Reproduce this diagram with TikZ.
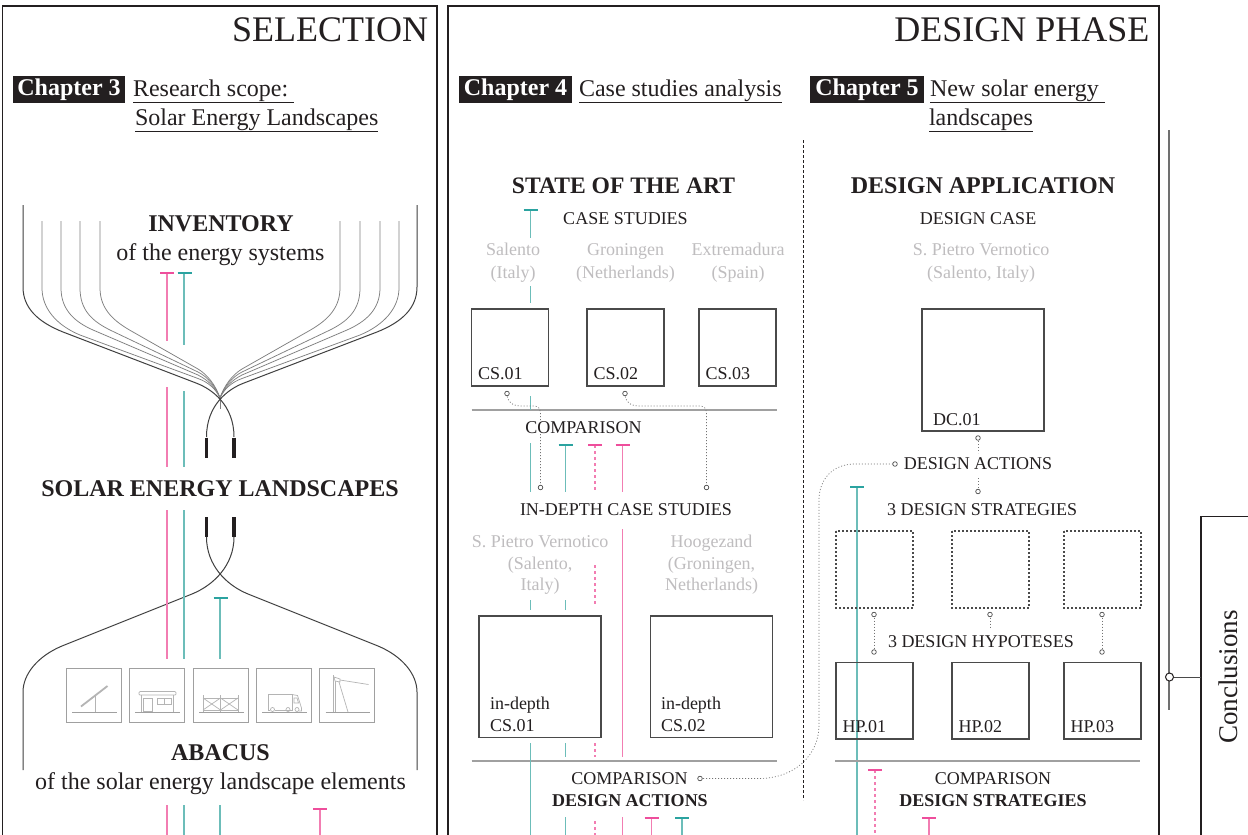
\documentclass[tikz,border=0pt]{standalone}
\usepackage{fontspec}
\setmainfont{Liberation Serif}
\definecolor{ink}{HTML}{231F20}
\definecolor{paleink}{HTML}{BFBDBF}
\definecolor{pinkline}{HTML}{F27DB2}
\definecolor{pinkcap}{HTML}{EE4E9C}
\definecolor{tealline}{HTML}{6CBDB9}
\definecolor{tealcap}{HTML}{2BA3A0}
\definecolor{boxgrey}{HTML}{4A4A4A}
\definecolor{rulegrey}{HTML}{A0A0A0}
\definecolor{icongrey}{HTML}{B4B4B4}
\newcommand{\fs}[1]{\fontsize{#1}{#1}\selectfont}
\tikzset{
 x=1pt,y=-1pt,
 every node/.style={inner sep=0pt,outer sep=0pt,text=ink},
 txt/.style={anchor=base,font=\fs{18}},
 txtl/.style={anchor=base west,font=\fs{18}},
 pale/.style={anchor=base,font=\fs{18},text=paleink},
 big/.style={anchor=base,font=\fs{24}},
 bigb/.style={anchor=base,font=\fs{24}\bfseries},
 bigl/.style={anchor=base west,font=\fs{24}},
 medb/.style={anchor=base,font=\fs{18}\bfseries},
 title/.style={anchor=base east,font=\fs{36}},
 chap/.style={fill=ink,text=white,font=\fs{24}\bfseries,minimum height=27pt,anchor=center},
 frame/.style={draw=ink,line width=1.4pt},
 pinkl/.style={draw=pinkline,line width=1.8pt},
 pinkd/.style={draw=pinkline,line width=1.3pt,dash pattern=on 3pt off 3pt},
 teall/.style={draw=tealline,line width=1.2pt},
 pinkc/.style={draw=pinkcap,line width=2pt},
 tealc/.style={draw=tealcap,line width=2pt},
 fan/.style={draw=black!50,line width=.75pt},
 fanout/.style={draw=black!75,line width=1pt},
 rulel/.style={draw=rulegrey,line width=1.2pt},
 sbox/.style={draw=boxgrey,line width=1.3pt},
 dbox/.style={draw=boxgrey,line width=1.3pt,dash pattern=on 2pt off 2pt},
 ibox/.style={draw=rulegrey,line width=1pt},
 icon/.style={draw=icongrey,line width=.7pt},
 dotl/.style={draw=black!55,line width=.7pt,dash pattern=on 1pt off 2pt},
 dotc/.style={draw=black!70,line width=.7pt,fill=white},
}
\newcommand{\tcap}[3]{\draw[#1] (#2-7,#3) -- (#2+7,#3);}
\begin{document}
\begin{tikzpicture}
\clip (0,0) rectangle (1248,835);
\fill[white] (0,0) rectangle (1248,835);
% frames
\draw[frame] (2.5,840) -- (2.5,6) -- (437,6) -- (437,840);
\draw[frame] (448,840) -- (448,6) -- (1159,6) -- (1159,840);
\draw[draw=ink,line width=1.2pt] (1248,516.5) -- (1201,516.5) -- (1201,840);
\draw[draw=rulegrey!70!black,line width=1.4pt] (1169,130) -- (1169,710);
\coordinate (cj) at (1169.5,677);
\coordinate (cb) at (1201,677);
\draw[draw=boxgrey,line width=1pt] (cj) -- (cb);
\draw[draw=ink,line width=1pt,fill=white] (cj) circle (4);
\node[anchor=base,rotate=90,font=\fs{27}] (concl) at (1237,677) {Conclusions};
% titles
\node[title] (tsel) at (428,41) {SELECTION};
\node[title] (tdes) at (1149.5,41) {DESIGN PHASE};
\node[chap,minimum width=112pt] (ch3) at (69,89.5) {\raisebox{-1pt}{Chapter 3}};
\node[chap,minimum width=113pt] (ch4) at (515.5,89.5) {\raisebox{-1pt}{Chapter 4}};
\node[chap,minimum width=114pt] (ch5) at (867,89.5) {\raisebox{-1pt}{Chapter 5}};
\node[bigl] (h3a) at (133,96) {\underline{Research scope:\ }};
\node[bigl] (h3b) at (135,125) {\underline{Solar Energy Landscapes}};
\node[bigl] (h4a) at (579,96) {\underline{Case studies analysis}};
\node[bigl] (h5a) at (930,96) {\underline{New solar energy\ }};
\node[bigl] (h5b) at (929,125) {\underline{landscapes}};
% left panel fans
\draw[fan] (100,221) -- (100,288) .. controls (100,310) and (115,322) .. (133,332) -- (198,369) .. controls (208,375) and (216,386) .. (220,398);
\draw[fan] (80,221) -- (80,288) .. controls (80,310) and (92,321) .. (110,330) -- (198,372) .. controls (208,377) and (216,387) .. (220,398);
\draw[fan] (61,221) -- (61,288) .. controls (61,310) and (75,322) .. (93,330) -- (198,375) .. controls (208,380) and (216,388) .. (220,398);
\draw[fan] (42,221) -- (42,288) .. controls (42,308) and (56,325) .. (80,335) -- (198,378.5) .. controls (208,382) and (216,389) .. (220,398);
\draw[fan] (340,221) -- (340,288) .. controls (340,310) and (325,322) .. (307,332) -- (242,369) .. controls (232,375) and (224,386) .. (220,398);
\draw[fan] (360,221) -- (360,288) .. controls (360,310) and (348,321) .. (330,330) -- (242,372) .. controls (232,377) and (224,387) .. (220,398);
\draw[fan] (380,221) -- (380,288) .. controls (380,310) and (365,322) .. (347,330) -- (242,375) .. controls (232,380) and (224,388) .. (220,398);
\draw[fan] (399,221) -- (399,288) .. controls (399,308) and (384,325) .. (360,335) -- (242,378.5) .. controls (232,382) and (224,389) .. (220,398);
\draw[fan] (220,398) -- (220,409);
\draw[fanout] (23,205) -- (23,287) .. controls (23,308) and (38,322) .. (63,332) -- (196,383) .. controls (212,389) and (234,405) .. (234,437);
\draw[fanout] (417,205) -- (417,287) .. controls (417,308) and (402,322) .. (377,332) -- (244,383) .. controls (228,389) and (206.5,405) .. (206.5,437);
\draw[ink,line width=3.4pt] (206.5,437.5) -- (206.5,458);
\draw[ink,line width=3.4pt] (234,437.5) -- (234,458);
\draw[ink,line width=3.4pt] (206.5,517) -- (206.5,537);
\draw[ink,line width=3.4pt] (234,517) -- (234,537);
\draw[fanout] (206.5,537) .. controls (206.5,565) and (226,585) .. (248,594) -- (378,646) .. controls (402,656) and (417,674) .. (417,692) -- (417,770);
\draw[fanout] (234,537) .. controls (234,565) and (214,585) .. (192,594) -- (62,646) .. controls (38,656) and (23,674) .. (23,692) -- (23,770);
% left panel coloured lines
\foreach \ya/\yb in {273/341,387/467,510/659,805/840}{\draw[pinkl] (167,\ya) -- (167,\yb);}
\foreach \ya/\yb in {273/345,391/467,510/659,805/840}{\draw[teall] (184,\ya) -- (184,\yb);}
\draw[teall] (220,597) -- (220,659);
\draw[teall] (220,805) -- (220,840);
\draw[pinkl] (320,808) -- (320,840);
\tcap{pinkc}{167}{273} \tcap{tealc}{184.5}{273} \tcap{tealc}{220.5}{597.5} \tcap{pinkc}{320}{808.5}
% left panel texts
\node[bigb] (inv) at (221,231) {INVENTORY};
\node[big] (invs) at (220.5,260) {of the energy systems};
\node[bigb] (sel) at (220,496) {SOLAR ENERGY LANDSCAPES};
\node[bigb] (aba) at (220.5,760) {ABACUS};
\node[big] (abas) at (220.5,789) {of the solar energy landscape elements};
% icons
\foreach \xi in {66,129,193,256,319.5}{
 \draw[ibox] (\xi,668) rectangle (\xi+55,722.5);
 \draw[draw=rulegrey,line width=.8pt] (\xi+6,712) -- (\xi+50.5,712);
}
\draw[draw=icongrey,line width=1.8pt] (81,706.5) -- (107.5,686);
\draw[icon] (95,696) -- (95,712);
% kiosk
\draw[icon,fill=white,rounded corners=1pt] (139,691.5) rectangle (176,695);
\draw[icon] (141.5,695) -- (141.5,712) (173,695) -- (173,712);
\draw[icon] (143.5,698) rectangle (152,711);
\draw[icon] (157,698) rectangle (164,704) (164,698) rectangle (171,704);
% fence
\draw[icon] (203,698) -- (238,698) (203,710) -- (238,710);
\foreach \xf in {203,220.5,238}{\draw[icon] (\xf,695) -- (\xf,712);}
\draw[icon] (203,698) -- (220.5,710) (220.5,698) -- (203,710) (220.5,698) -- (238,710) (238,698) -- (220.5,710);
% truck
\draw[icon] (270,710) -- (268.5,710) -- (268.5,694.5) -- (292,694.5) -- (292,710) -- (274.5,710);
\draw[icon] (290,710) -- (286,710);
\draw[icon] (292,694.5) -- (297.5,695.5) -- (301.5,708) -- (301.5,711) -- (299,711);
\draw[icon] (294,698) -- (297,698) -- (298.5,703) -- (294,703) -- cycle;
\foreach \xt in {272.5,288,297}{\draw[icon] (\xt,709.5) circle (2);}
% lamp
\draw[icon] (333,675) -- (333,712) (335,680) -- (335,712);
\draw[icon,fill=white] (334,677) -- (340,679) -- (340,682) -- (335,681) -- cycle;
\draw[icon] (340,680) -- (368.5,684.5) (339,682) -- (348,712);
% centre: boxes
\foreach \na/\xa/\lab in {cs1/471.5/CS.01,cs2/587/CS.02,cs3/699/CS.03}{
 \draw[sbox] (\xa,309) rectangle (\xa+77,386);
 \node[txtl] (\na) at (\xa+6.5,379) {\lab};
}
\draw[sbox] (479,616) rectangle (601,737.5);
\draw[sbox] (650.5,616) rectangle (772.5,737.5);
\node[txtl] (id1a) at (490,709) {in-depth};
\node[txtl] (id1b) at (490,731) {CS.01};
\node[txtl] (id2a) at (661,709) {in-depth};
\node[txtl] (id2b) at (661,731) {CS.02};
\draw[rulel] (471.5,410) -- (777,410);
\draw[rulel] (471.5,761) -- (777,761);
% centre: coloured lines
\foreach \ya/\yb in {209/238,286/303,396/410,443/492,600/610,743/840}{\draw[teall] (530.5,\ya) -- (530.5,\yb);}
\foreach \ya/\yb in {445/492,600/610,743/757,817/840}{\draw[teall] (565.5,\ya) -- (565.5,\yb);}
\foreach \ya/\yb in {445/492,565/606,743/757,821/840}{\draw[pinkd] (595,\ya) -- (595,\yb);}
\foreach \ya/\yb in {445/492,529/757,817/840}{\draw[pinkl] (622.5,\ya) -- (622.5,\yb);}
\draw[pinkl] (651.5,817.5) -- (651.5,840);
\draw[teall] (682,817.5) -- (682,840);
\tcap{tealc}{530.5}{209.5} \tcap{tealc}{565.5}{445} \tcap{pinkc}{595}{445} \tcap{pinkc}{622.5}{445} \tcap{pinkc}{651.5}{818} \tcap{tealc}{682}{818}
% centre: dotted links
\coordinate (d1) at (507,393.5); \coordinate (d1e) at (540.5,487.5);
\coordinate (d2) at (625,393.5); \coordinate (d2e) at (706.5,487.5);
\coordinate (d3) at (700,778.5); \coordinate (d3e) at (895,464);
\draw[dotl] (d1) .. controls (507,402) and (512,406) .. (522,406) -- (533,406) .. controls (538,406) and (540.5,408) .. (540.5,414) -- (d1e);
\draw[dotl] (d2) .. controls (625,402) and (630,406) .. (640,406) -- (699,406) .. controls (704,406) and (706.5,408) .. (706.5,414) -- (d2e);
\draw[dotl] (d3) -- (760,778.5) .. controls (795,778) and (819,755) .. (819,725) -- (819,500) .. controls (819,480) and (832,464) .. (855,464) -- (d3e);
\foreach \c in {d1,d1e,d2,d2e,d3,d3e}{\draw[dotc] (\c) circle (2.3);}
% centre: texts
\node[anchor=base,font=\fs{23.6}\bfseries] (soa) at (623.5,193) {STATE OF THE ART};
\node[txt] (cs) at (625.5,224) {CASE STUDIES};
\node[pale] (sal) at (513,255.5) {Salento};
\node[pale] (sal2) at (513,278) {(Italy)};
\node[pale] (gro) at (625.5,255.5) {Groningen};
\node[pale] (gro2) at (625.5,278) {(Netherlands)};
\node[pale] (ext) at (738,255.5) {Extremadura};
\node[pale] (ext2) at (738,278) {(Spain)};
\node[txt,fill=white,inner xsep=1pt,inner ysep=0pt] (cmp1) at (583.5,433.5) {COMPARISON};
\node[txt] (ind) at (626,515) {IN-DEPTH CASE STUDIES};
\node[pale] (spv) at (540,547.5) {S. Pietro Vernotico};
\node[pale] (spv2) at (540,569.5) {(Salento,};
\node[pale] (spv3) at (540,590.5) {Italy)};
\node[pale] (hoo) at (711.5,547.5) {Hoogezand};
\node[pale] (hoo2) at (711.5,569.5) {(Groningen,};
\node[pale] (hoo3) at (711.5,590.5) {Netherlands)};
\node[txt] (cmp2) at (629.5,784.5) {COMPARISON};
\node[medb] (dact) at (630,806) {DESIGN ACTIONS};
% separator
\draw[draw=ink,line width=1.3pt,dash pattern=on 2.5pt off 2.5pt] (803.5,140) -- (803.5,800);
% right: boxes
\draw[sbox] (922,309) rectangle (1044,431);
\node[txtl] (dc) at (933,425) {DC.01};
\draw[teall] (857,487) -- (857,840);
\tcap{tealc}{857}{487}
\foreach \xa in {836,952,1064}{\draw[dbox] (\xa,531) rectangle (\xa+77,608);}
\foreach \xa/\na/\lab in {836/hp1/HP.01,952/hp2/HP.02,1064/hp3/HP.03}{
 \draw[sbox] (\xa,662.5) rectangle (\xa+77,739);
 \node[txtl] (\na) at (\xa+6.5,732) {\lab};
}
\draw[rulel] (835,761) -- (1140,761);
\draw[pinkd] (875,770) -- (875,840);
\tcap{pinkc}{875}{770}
\draw[pinkl] (929,818) -- (929,840);
\tcap{pinkc}{929}{818}
% right: dotted links
\coordinate (e1) at (978,438); \coordinate (e2) at (978,453);
\coordinate (e3) at (978,478); \coordinate (e4) at (978,491.5);
\coordinate (f1) at (874,614.5); \coordinate (f1e) at (874,652);
\coordinate (f2) at (990,614.5); \coordinate (f2e) at (990,628);
\coordinate (f3) at (1102,614.5); \coordinate (f3e) at (1102,652);
\draw[dotl] (e1) -- (e2); \draw[dotl] (e3) -- (e4);
\draw[dotl] (f1) -- (f1e); \draw[dotl] (f2) -- (f2e); \draw[dotl] (f3) -- (f3e);
\foreach \c in {e1,e4,f1,f1e,f2,f3,f3e}{\draw[dotc] (\c) circle (2.3);}
% right: texts
\node[bigb] (dapp) at (983,193) {DESIGN APPLICATION};
\node[txt] (dcase) at (978,224) {DESIGN CASE};
\node[pale] (spv4) at (981,255.5) {S. Pietro Vernotico};
\node[pale] (spv5) at (981,278) {(Salento, Italy)};
\node[txt] (dact2) at (978,469) {DESIGN ACTIONS};
\node[txt] (dstr) at (982,515) {3 DESIGN STRATEGIES};
\node[txt] (dhyp) at (981,647) {3 DESIGN HYPOTESES};
\node[txt] (cmp3) at (993,784.5) {COMPARISON};
\node[medb] (dstr2) at (993,806) {DESIGN STRATEGIES};
\end{tikzpicture}
\end{document}
